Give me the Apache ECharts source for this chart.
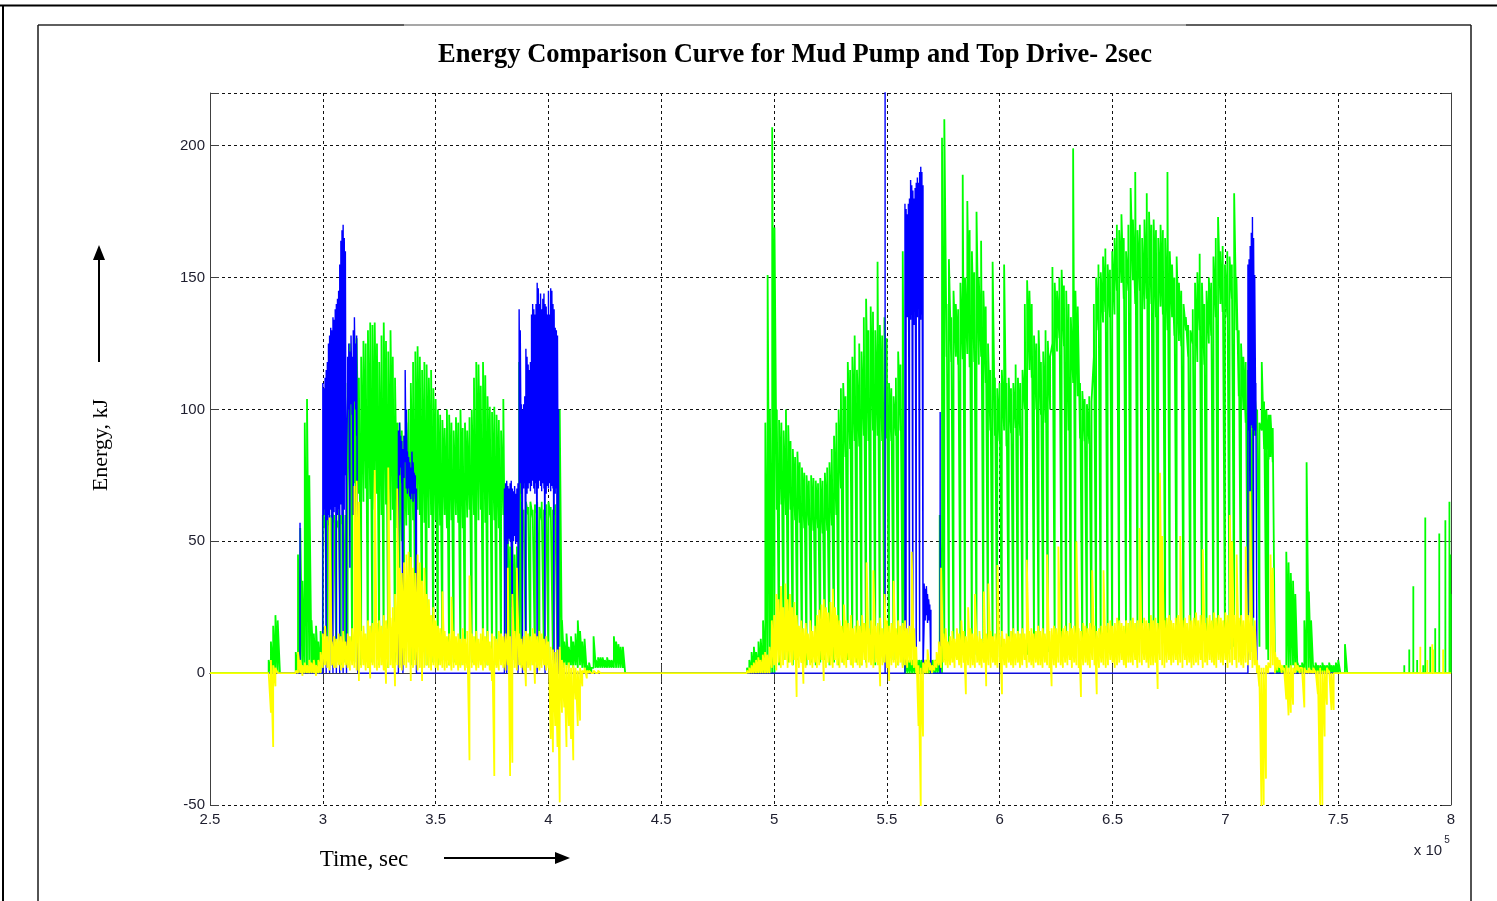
<!DOCTYPE html>
<html><head><meta charset="utf-8">
<script src="https://cdn.jsdelivr.net/npm/echarts@6/dist/echarts.min.js"></script>
<style>html,body{margin:0;padding:0;background:#fff}#c{width:1497px;height:901px}</style>
</head><body><div id="c"></div>
<script>
// ---------- text ----------
const titleText = 'Energy Comparison Curve for Mud Pump and Top Drive- 2sec';
const yName = 'Energy, kJ';
const xName = 'Time, sec';
const xScaleBase = 'x 10', xScaleExp = '5';

// ---------- axes ----------
const xMin = 2.5, xMax = 8, xInterval = 0.5;
const yMin = -50, yMax = 220, yInterval = 50;

// ---------- green (top drive) : sampled band top / bottom ----------
const greenStartA = 2.76, greenStepA = 0.01;
const greenHiA = [5,12,18,22,20,0,0,0,0,0,
0,0,8,45,55,35,95,104,75,20,
15,18,12,16,60,62,58,60,62,60,
58,62,60,62,60,110,125,118,128,127,
112,120,126,125,130,133,132,133,125,118,
128,133,126,122,130,120,112,95,95,92,
90,95,100,110,118,122,124,120,115,118,
117,112,115,108,104,100,98,96,93,100,
98,95,92,97,95,100,93,95,92,97,
100,112,118,117,109,118,113,105,101,99,
101,98,96,92,104,50,52,48,50,45,
48,118,65,62,65,63,65,62,64,65,
63,65,62,64,65,63,62,64,95,100,
20,12,15,10,14,12,15,20,16,12,
13,3,4,2,14,5,6,6,6,5,
6,5,5,14,12,11,10,10,0,0];
const greenLoA = [0,0,0,0,0,0,0,0,0,0,
0,0,0,0,0,0,0,0,0,0,
0,0,0,0,3,55,4,56,3,57,
4,55,3,56,4,3,70,5,72,4,
68,3,65,70,2,66,4,62,68,3,
60,5,64,2,58,62,4,55,3,50,
4,56,60,3,58,5,62,60,4,57,
3,55,60,4,58,3,56,5,60,55,
3,58,4,60,57,3,55,4,59,62,
4,60,3,58,62,5,57,3,60,4,
58,3,55,4,60,4,20,3,25,5,
10,4,3,58,4,60,3,59,5,60,
3,58,4,60,3,59,5,60,4,3,
3,2,3,2,3,2,3,2,3,2,
2,0,0,0,2,2,2,2,2,2,
2,2,2,2,2,2,2,2,0,0];

const greenStartB1 = 4.88, greenStepB1 = 0.01015;
const greenHiB1 = [2,5,8,10,8,12,13,20,95,151,
100,207,169,100,96,95,92,100,94,88,
85,82,84,80,78,76,75,73,75,74,
73,72,74,73,76,78,80,85,90,95,
100,108,110,105,118,115,120,128,115,125,
122,135,142,130,139,137,130,156,132,128,
135,127,110,108,105,112,122,117,160,5];
const greenLoB1 = [0,0,0,0,0,0,0,0,0,0,
0,0,0,62,3,64,5,60,4,62,
3,58,5,57,4,55,3,56,4,54,
3,55,4,53,5,54,3,56,4,60,
3,70,4,82,5,85,3,88,4,86,
3,90,4,88,5,92,3,90,5,88,
4,89,3,88,5,90,3,92,3,0];

const greenStartB2 = 5.5811, greenStepB2 = 0.010195;
const greenHiB2 = [5,5,5,5,5,5,5,5,5,5,
5,5,5,5,5,60,203,210,140,157,
135,145,140,138,148,189,150,179,168,160,
152,175,150,164,145,139,125,115,156,112,
108,110,115,155,110,112,108,110,117,112,
110,115,140,149,145,140,128,125,130,118,
122,130,126,120,154,148,145,150,153,147,
145,140,135,199,145,139,110,107,104,102,
105,103,140,150,155,152,158,161,155,153,
160,165,170,168,174,165,160,170,184,172,
190,168,170,165,172,182,175,170,172,168,
165,170,168,165,190,160,155,150,158,148,
145,140,135,132,130,138,148,152,159,148,
140,145,150,148,158,165,173,160,162,155,
160,158,155,182,150,130,125,120,118,115,
110,110,105,100,95,118,103,100,98,93];
const greenLoB2 = [0,0,0,0,0,0,0,0,0,0,
0,0,0,0,0,0,0,5,120,8,
118,6,120,117,7,119,8,121,116,6,
118,7,117,120,8,110,6,92,8,90,
6,88,7,92,86,6,91,8,93,7,
90,8,100,7,115,112,9,100,7,98,
10,95,8,100,125,7,122,127,9,124,
8,92,7,110,8,105,89,7,88,9,
87,8,120,10,130,7,133,137,9,135,
8,136,145,9,148,142,10,145,8,149,
140,9,145,8,138,142,10,140,8,135,
11,139,136,9,130,8,135,128,10,126,
124,9,130,120,10,125,8,118,130,9,
117,10,125,128,9,135,8,140,137,11,
135,9,142,10,130,105,9,100,95,10,
92,8,90,92,10,92,85,9,81,85];

const greenStartC = 7.18, greenStepC = 0.01;
const greenHiC = [100,95,98,93,3,3,2,2,3,46,
42,38,35,30,4,3,4,20,80,31,
20,3,4,3,3,4,3,3,4,3,
3,4,5,0,0,11,0];
const greenLoC = [85,5,82,80,0,0,0,0,0,0,
2,0,3,0,0,0,0,0,0,0,
0,0,0,0,0,0,0,0,0,0,
0,0,0,0,0,0,0];

const greenTailT = [7.793,7.815,7.833,7.850,7.877,7.886,7.908,7.930,7.948,7.975,7.993,7.997,7.999];
const greenTailV = [3,9,33,5,3,59,10,17,53,58,65,45,30];

// ---------- yellow (difference) ----------
const yellowStartA = 2.76, yellowStepA = 0.01;
const yellowHiA = [0,5,3,2,0,0,0,0,0,0,
0,0,1,8,5,3,4,3,5,4,
5,3,5,8,15,18,14,59,12,14,
13,15,14,16,12,15,14,17,71,73,
65,16,18,15,20,18,19,77,19,20,
18,22,20,78,21,25,30,70,40,38,
42,45,46,44,40,38,45,42,35,40,
30,28,22,25,20,18,17,31,16,14,
15,29,16,14,15,13,17,13,16,37,
15,14,16,13,15,17,14,16,12,15,
14,13,16,15,14,15,40,14,30,16,
40,15,13,14,16,15,14,17,15,14,
16,15,13,14,12,10,9,8,9,10,
5,4,3,4,2,3,2,1,2,1,
2,1,1,0,1,0,1,0,0,0,
0,0,0,0,0,0,0,0,0,0];
const yellowLoA = [0,-15,-28,-5,0,0,0,0,0,0,
0,0,0,0,0,-1,0,0,0,0,
0,-1,0,0,2,3,2,1,3,2,
2,3,1,2,3,2,1,3,2,1,
-3,2,3,1,2,-2,3,2,1,2,
3,1,-4,2,3,2,-5,3,2,1,
3,2,4,-3,2,3,1,2,-3,2,
3,2,1,3,2,1,3,2,1,2,
3,1,2,3,1,2,3,1,2,-33,
2,3,1,2,3,1,2,3,1,-3,
-39,2,1,3,2,1,3,-39,-34,2,
1,3,2,1,-5,2,1,3,-4,2,
1,2,3,1,2,-25,-30,-20,-28,-49,
-15,-13,-28,-20,-25,-33,-10,-20,-18,-5,
0,-2,0,0,0,0,0,0,0,0,
0,0,0,0,0,0,0,0,0,0];

const yellowStartB = 4.88, yellowStepB = 0.01;
const yellowHiB = [1,2,3,4,5,6,5,7,8,7,
10,20,22,30,28,33,25,34,28,30,
25,27,22,18,20,17,19,15,20,16,
18,22,24,26,28,25,23,27,32,25,
22,20,18,26,20,19,22,17,18,20,
18,22,19,42,17,20,39,18,19,21,
17,30,20,18,19,35,17,20,18,19,
20,17,18,46,17,10,3,2,4,5,
9,4,3,5,8,12,40,15,17,12,
14,16,13,17,15,20,16,14,25,17,
15,30,14,16,13,31,15,34,16,14,
15,41,14,16,13,15,14,16,17,15,
16,15,17,15,43,16,17,15,16,18,
16,17,15,45,16,17,18,17,48,16,
17,18,16,19,17,18,50,17,16,19,
18,17,19,39,18,16,17,18,39,18,
19,20,18,19,21,20,19,18,20,19,
20,21,19,20,55,19,21,20,19,22,
20,21,19,76,52,20,21,22,20,19,
21,22,52,20,21,19,22,20,21,23,
20,22,47,19,21,22,20,23,21,22,
21,20,23,22,60,50,22,45,21,22,
20,48,22,69,18,20,5,3,2,2,
3,4,45,40,8,6,5,3,2,3,
2,3,2,4,3,2,1,2,1,2,
1,2,1,1,2,1,1,2,1,0,
0,0,0];
const yellowLoB = [0,0,0,0,0,0,0,0,0,0,
0,2,3,1,4,2,3,5,2,4,
3,5,-9,2,4,-4,2,5,3,2,
4,2,3,5,-3,2,4,3,2,5,
3,2,4,3,2,5,3,2,4,3,
2,3,5,2,4,3,2,4,3,-5,
3,4,2,-3,3,4,2,3,4,2,
3,2,4,3,2,0,-20,-51,-24,0,
0,1,0,1,2,3,2,4,3,2,
3,4,2,5,3,2,4,-8,3,2,
3,2,4,3,2,4,-5,3,2,4,
3,2,4,-8,3,2,4,3,2,3,
4,2,3,5,2,4,3,2,4,3,
3,2,4,3,2,-5,3,2,4,3,
2,4,3,5,2,4,3,2,-9,3,
4,3,2,5,3,-8,2,4,3,2,
3,5,4,2,3,4,5,3,2,4,
4,3,5,2,4,3,5,4,2,3,
3,4,-6,5,3,2,4,5,3,4,
5,3,4,2,5,3,4,2,3,4,
3,5,2,4,3,5,4,3,2,5,
4,3,5,2,4,3,5,2,4,3,
2,4,3,5,2,3,0,-5,-51,-50,
-40,0,2,3,0,1,2,0,1,-10,
-16,-15,-12,0,1,0,2,-13,0,0,
0,0,0,-8,-50,-50,-24,-12,0,-14,
-14,0,0];
const yellowTailT = [7.864,7.895,7.917,7.921,7.965];
const yellowTailV = [10,5,11,9,9];

// ---------- blue (mud pump) ----------
const blueFrom = 2.76, blueTo = 7.5;
const blueSpikeT = [2.899, 5.492, 5.736];
const blueSpikeV = [57, 230, 99];
const blueStep = 0.005;
const blueBlockStart = [3.000, 3.335, 3.805, 3.870, 5.580, 5.665, 7.100];
const blueBlockHi = [
 [110,108,112,115,118,125,128,131,130,135,134,138,140,142,145,155,164,168,170,165,160,81,120,125,122,128,120,130,135,125,128,0],
 [92,95,90,88,85,90,115,100,84,82,80,78,84,80,76,75,70],
 [70,72,73,71,70,72,73,70,69,71,68,70,72],
 [138,130,102,100,102,105,123,120,117,115,118,136,140,138,136,140,148,146,140,144,138,142,144,140,139,136,145,136,146,145,140,138,131,130,128,100],
 [178,176,174,178,180,187,185,183,180,184,186,188,186,190,192,190,185],
 [34,32,33,30,28,26,24],
 [155,157,162,167,173,165,151,110,0]
];
const blueBlockLo = [
 [0,60,62,0,58,60,0,62,59,0,61,63,0,60,62,0,64,60,0,62,75,0,105,100,40,102,98,60,103,100,90,0],
 [80,75,78,72,0,74,80,70,68,70,67,66,68,65,68,66,0],
 [52,50,0,49,51,50,48,0,50,52,49,50,48],
 [70,72,68,0,70,72,0,68,70,72,69,71,73,70,68,72,0,70,73,71,69,72,70,0,68,71,70,72,69,71,70,0,68,70,0,0],
 [130,10,135,138,8,134,136,15,132,137,6,135,138,12,134,136,20],
 [19,20,22,19,20,21,0],
 [95,92,23,94,93,21,92,90,0]
];

// ---------- builders ----------
function zig(start, step, hi, lo) {
  const n = Math.min(hi.length, lo.length), out = [];
  for (let i = 0; i < n; i++) {
    const t = +(start + i * step).toFixed(5);
    out.push([t, lo[i]], [t, hi[i]]);
  }
  return out;
}
function spikes(ts, vs) {
  const out = [];
  ts.forEach((t, i) => out.push([t, 0], [t, vs[i]], [t, 0]));
  return out;
}
const greenData = [[xMin, 0]].concat(
  zig(greenStartA, greenStepA, greenHiA, greenLoA),
  zig(greenStartB1, greenStepB1, greenHiB1, greenLoB1),
  zig(greenStartB2, greenStepB2, greenHiB2, greenLoB2),
  zig(greenStartC, greenStepC, greenHiC, greenLoC),
  spikes(greenTailT, greenTailV),
  [[xMax, 0]]);
const yellowData = [[xMin, 0]].concat(
  zig(yellowStartA, yellowStepA, yellowHiA, yellowLoA),
  zig(yellowStartB, yellowStepB, yellowHiB, yellowLoB),
  spikes(yellowTailT, yellowTailV),
  [[xMax, 0]]);
const blueEvents = [];
blueSpikeT.forEach((t, i) => blueEvents.push({t, pts: spikes([t], [blueSpikeV[i]])}));
blueBlockStart.forEach((s, k) => {
  const z = zig(s, blueStep, blueBlockHi[k], blueBlockLo[k]);
  blueEvents.push({t: s, pts: [[s, 0]].concat(z, [[z[z.length - 1][0], 0]])});
});
blueEvents.sort((a, b) => a.t - b.t);
let blueData = [[blueFrom, 0]];
blueEvents.forEach(e => { blueData = blueData.concat(e.pts); });
blueData.push([blueTo, 0]);

// ---------- chart ----------
const axisCol = '#404040';
const tickFont = {fontFamily: 'Liberation Sans', fontSize: 15, color: '#1e1e2e'};
const chart = echarts.init(document.getElementById('c'));
const sty = (o) => Object.assign({align: 'center', verticalAlign: 'middle', textAlign: 'center', textVerticalAlign: 'middle'}, o);
chart.setOption({
  animation: false,
  backgroundColor: '#fff',
  grid: {left: 210, top: 93, width: 1241, height: 712, show: false},
  xAxis: [
    {type: 'value', min: xMin, max: xMax, interval: xInterval, position: 'bottom',
     axisLine: {show: true, lineStyle: {color: axisCol, width: 1}},
     axisTick: {show: true, inside: true, length: 9, lineStyle: {color: axisCol}},
     axisLabel: Object.assign({margin: 7, formatter: v => String(v)}, tickFont),
     splitLine: {show: true, lineStyle: {color: '#111', type: [3, 3], width: 1}}},
    {type: 'value', min: xMin, max: xMax, interval: xInterval, position: 'top',
     axisLine: {show: true, lineStyle: {color: axisCol, width: 1}},
     axisTick: {show: true, inside: true, length: 9, lineStyle: {color: axisCol}},
     axisLabel: {show: false}, splitLine: {show: false}}
  ],
  yAxis: [
    {type: 'value', min: yMin, max: yMax, interval: yInterval, position: 'left',
     axisLine: {show: true, lineStyle: {color: axisCol, width: 1}},
     axisTick: {show: true, inside: true, length: 9, lineStyle: {color: axisCol}},
     axisLabel: Object.assign({margin: 5, formatter: v => (v % yInterval === 0 ? String(v) : '')}, tickFont),
     splitLine: {show: true, lineStyle: {color: '#111', type: [3, 3], width: 1}}},
    {type: 'value', min: yMin, max: yMax, interval: yInterval, position: 'right',
     axisLine: {show: true, lineStyle: {color: axisCol, width: 1}},
     axisTick: {show: true, inside: true, length: 9, lineStyle: {color: axisCol}},
     axisLabel: {show: false}, splitLine: {show: false}}
  ],
  series: [
    {type: 'line', name: 'Top Drive', data: greenData, symbol: 'none', clip: true, silent: true,
     lineStyle: {color: '#00ff00', width: 1.8}, z: 2},
    {type: 'line', name: 'Mud Pump', data: blueData, symbol: 'none', clip: true, silent: true,
     lineStyle: {color: '#0000ff', width: 1.4}, z: 3},
    {type: 'line', name: 'Difference', data: yellowData, symbol: 'none', clip: true, silent: true,
     lineStyle: {color: '#ffff00', width: 1.8}, z: 4}
  ],
  graphic: [
    {type: 'line', shape: {x1: 0, y1: 5.5, x2: 1497, y2: 5.5}, style: {stroke: '#000', lineWidth: 2}},
    {type: 'line', shape: {x1: 3, y1: 5, x2: 3, y2: 901}, style: {stroke: '#000', lineWidth: 2}},
    {type: 'line', shape: {x1: 38, y1: 25, x2: 404, y2: 25}, style: {stroke: '#2a2a2a', lineWidth: 1.5}},
    {type: 'line', shape: {x1: 404, y1: 25, x2: 1186, y2: 25}, style: {stroke: '#8a8a8a', lineWidth: 1.5}},
    {type: 'line', shape: {x1: 1186, y1: 25, x2: 1471, y2: 25}, style: {stroke: '#2a2a2a', lineWidth: 1.5}},
    {type: 'line', shape: {x1: 38, y1: 25, x2: 38, y2: 901}, style: {stroke: '#1a1a1a', lineWidth: 1.5}},
    {type: 'line', shape: {x1: 1471, y1: 25, x2: 1471, y2: 901}, style: {stroke: '#1a1a1a', lineWidth: 1.5}},
    {type: 'text', x: 795, y: 55, style: sty({text: titleText, font: 'bold 26.5px "Liberation Serif"', fill: '#000'})},
    {type: 'text', x: 101, y: 445, rotation: Math.PI / 2, style: sty({text: yName, font: '22px "Liberation Serif"', fill: '#000'})},
    {type: 'line', shape: {x1: 99, y1: 362, x2: 99, y2: 258}, style: {stroke: '#000', lineWidth: 2}},
    {type: 'polygon', shape: {points: [[99, 245], [93, 260], [105, 260]]}, style: {fill: '#000'}},
    {type: 'text', x: 364, y: 860, style: sty({text: xName, font: '23px "Liberation Serif"', fill: '#000'})},
    {type: 'line', shape: {x1: 444, y1: 858, x2: 556, y2: 858}, style: {stroke: '#000', lineWidth: 2}},
    {type: 'polygon', shape: {points: [[570, 858], [555, 852], [555, 864]]}, style: {fill: '#000'}},
    {type: 'text', x: 1428, y: 851, style: sty({text: xScaleBase, font: '15px "Liberation Sans"', fill: '#1e1e2e'})},
    {type: 'text', x: 1447, y: 840, style: sty({text: xScaleExp, font: '10px "Liberation Sans"', fill: '#1e1e2e'})}
  ]
});
</script>
</body></html>
